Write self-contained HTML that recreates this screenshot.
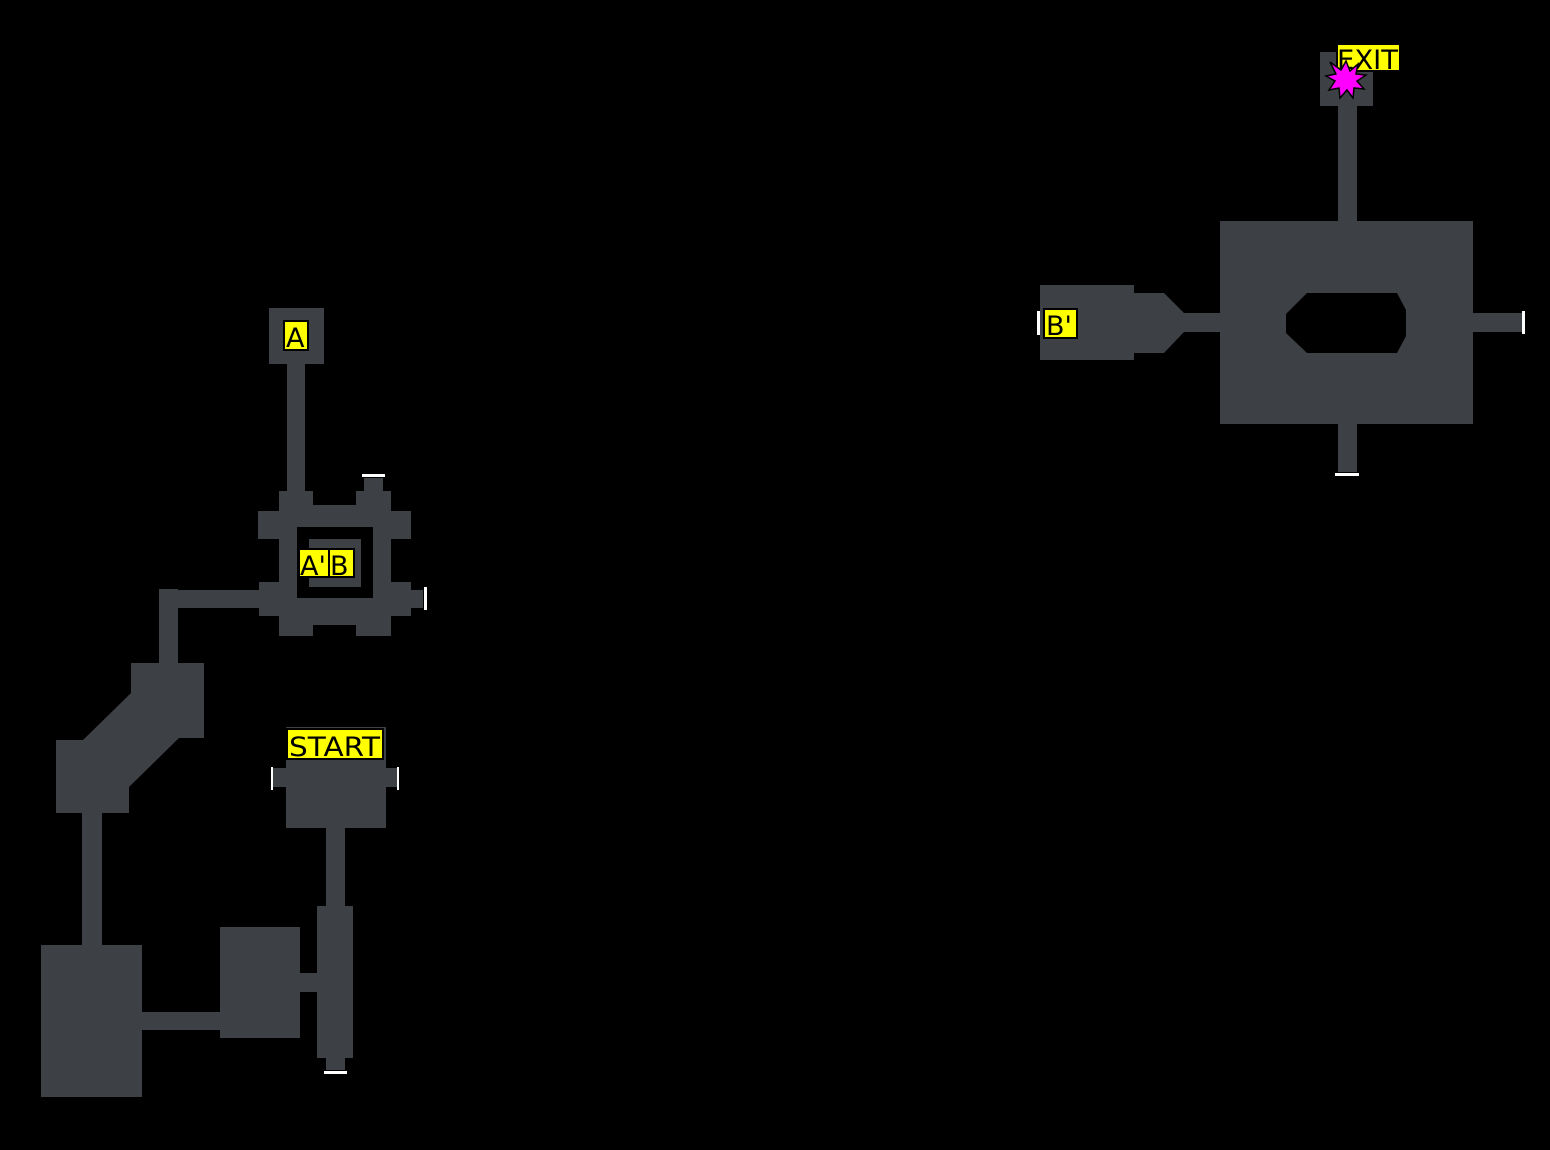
<!DOCTYPE html>
<html><head><meta charset="utf-8"><style>
html,body{margin:0;padding:0;background:#000;}
svg{display:block;}
.g{fill:#3d4044;}
.h{fill:#000;}
.w{fill:#fff;}
.lb{fill:#ffff00;stroke:#000;stroke-width:2;}
text{font-family:"DejaVu Sans","Liberation Sans",sans-serif;font-size:27px;fill:#000;}
</style></head><body>
<svg width="1550" height="1150" viewBox="0 0 1550 1150" xmlns="http://www.w3.org/2000/svg">
<rect width="1550" height="1150" fill="#000"/>
<rect class="g" x="287" y="360" width="18" height="135"/>
<rect class="g" x="269" y="308" width="55" height="56"/>
<rect class="g" x="364" y="478" width="19" height="15"/>
<rect class="g" x="279" y="491" width="34" height="145"/>
<rect class="g" x="356" y="491" width="35" height="145"/>
<rect class="g" x="258" y="511" width="153" height="28"/>
<rect class="g" x="259" y="582" width="152" height="34"/>
<rect class="g" x="159" y="590" width="110" height="18"/>
<rect class="g" x="400" y="590" width="23" height="18"/>
<rect class="g" x="279" y="505" width="112" height="120"/>
<rect class="h" x="297" y="527" width="76" height="71"/>
<rect class="g" x="309" y="539" width="52" height="48"/>
<rect class="w" x="362" y="474" width="23" height="3"/>
<rect class="w" x="424" y="587" width="3" height="23"/>
<rect class="g" x="159" y="589" width="19" height="78"/>
<polygon class="g" points="131,663 204,663 204,738 179,738 129,787 129,813 56,813 56,740 83,740 131,693"/>
<rect class="g" x="82" y="810" width="20" height="138"/>
<rect class="g" x="41" y="945" width="101" height="152"/>
<rect class="g" x="140" y="1012" width="82" height="18"/>
<rect class="g" x="220" y="927" width="80" height="111"/>
<rect class="g" x="298" y="973" width="21" height="19"/>
<rect class="g" x="326" y="825" width="19" height="83"/>
<rect class="g" x="326" y="1055" width="19" height="15"/>
<rect class="g" x="317" y="906" width="36" height="152"/>
<rect class="w" x="324" y="1071" width="23" height="3"/>
<rect class="g" x="273" y="768" width="124" height="19"/>
<rect class="g" x="286" y="727" width="100" height="101"/>
<rect class="w" x="271" y="767" width="2" height="23"/>
<rect class="w" x="397" y="767" width="2" height="23"/>
<rect class="lb" x="287" y="729" width="96" height="30"/>
<text x="289" y="756" textLength="91" lengthAdjust="spacingAndGlyphs">START</text>
<rect class="lb" x="284" y="321" width="24" height="29"/>
<text x="286" y="347">A</text>
<rect class="lb" x="299" y="549" width="30" height="28"/>
<text x="300" y="575">A'</text>
<rect class="lb" x="329" y="549" width="25" height="28"/>
<text x="330" y="575">B</text>
<rect class="g" x="1338" y="104" width="19" height="120"/>
<rect class="g" x="1320" y="52" width="53" height="54"/>
<rect class="g" x="1338" y="422" width="19" height="50"/>
<rect class="g" x="1470" y="313" width="52" height="19"/>
<rect class="g" x="1180" y="313" width="44" height="19"/>
<polygon class="g" points="1040,285 1134,285 1134,293 1164,293 1184,313 1184,332 1164,353 1134,353 1134,360 1040,360"/>
<rect class="g" x="1220" y="221" width="253" height="203"/>
<polygon class="h" points="1307,293 1397,293 1406,310 1406,336 1397,353 1307,353 1286,333 1286,314"/>
<rect class="w" x="1522" y="311" width="3" height="23"/>
<rect class="w" x="1335" y="473" width="24" height="3"/>
<rect class="w" x="1037" y="311" width="3" height="24"/>
<rect class="lb" x="1044" y="309" width="33" height="29"/>
<text x="1046" y="335">B'</text>
<rect class="lb" x="1337" y="44" width="63" height="27"/>
<text x="1337" y="69" textLength="61" lengthAdjust="spacingAndGlyphs">EXIT</text>
<polygon fill="#ff00ff" stroke="#000" stroke-width="1.5" points="1346,61 1350,71 1358,64 1356,74 1366,75 1357,81 1364,89 1354,88 1353,98 1347,90 1340,98 1339,88 1329,90 1335,81 1326,76 1336,74 1330,62 1341,70"/>
</svg>
</body></html>
